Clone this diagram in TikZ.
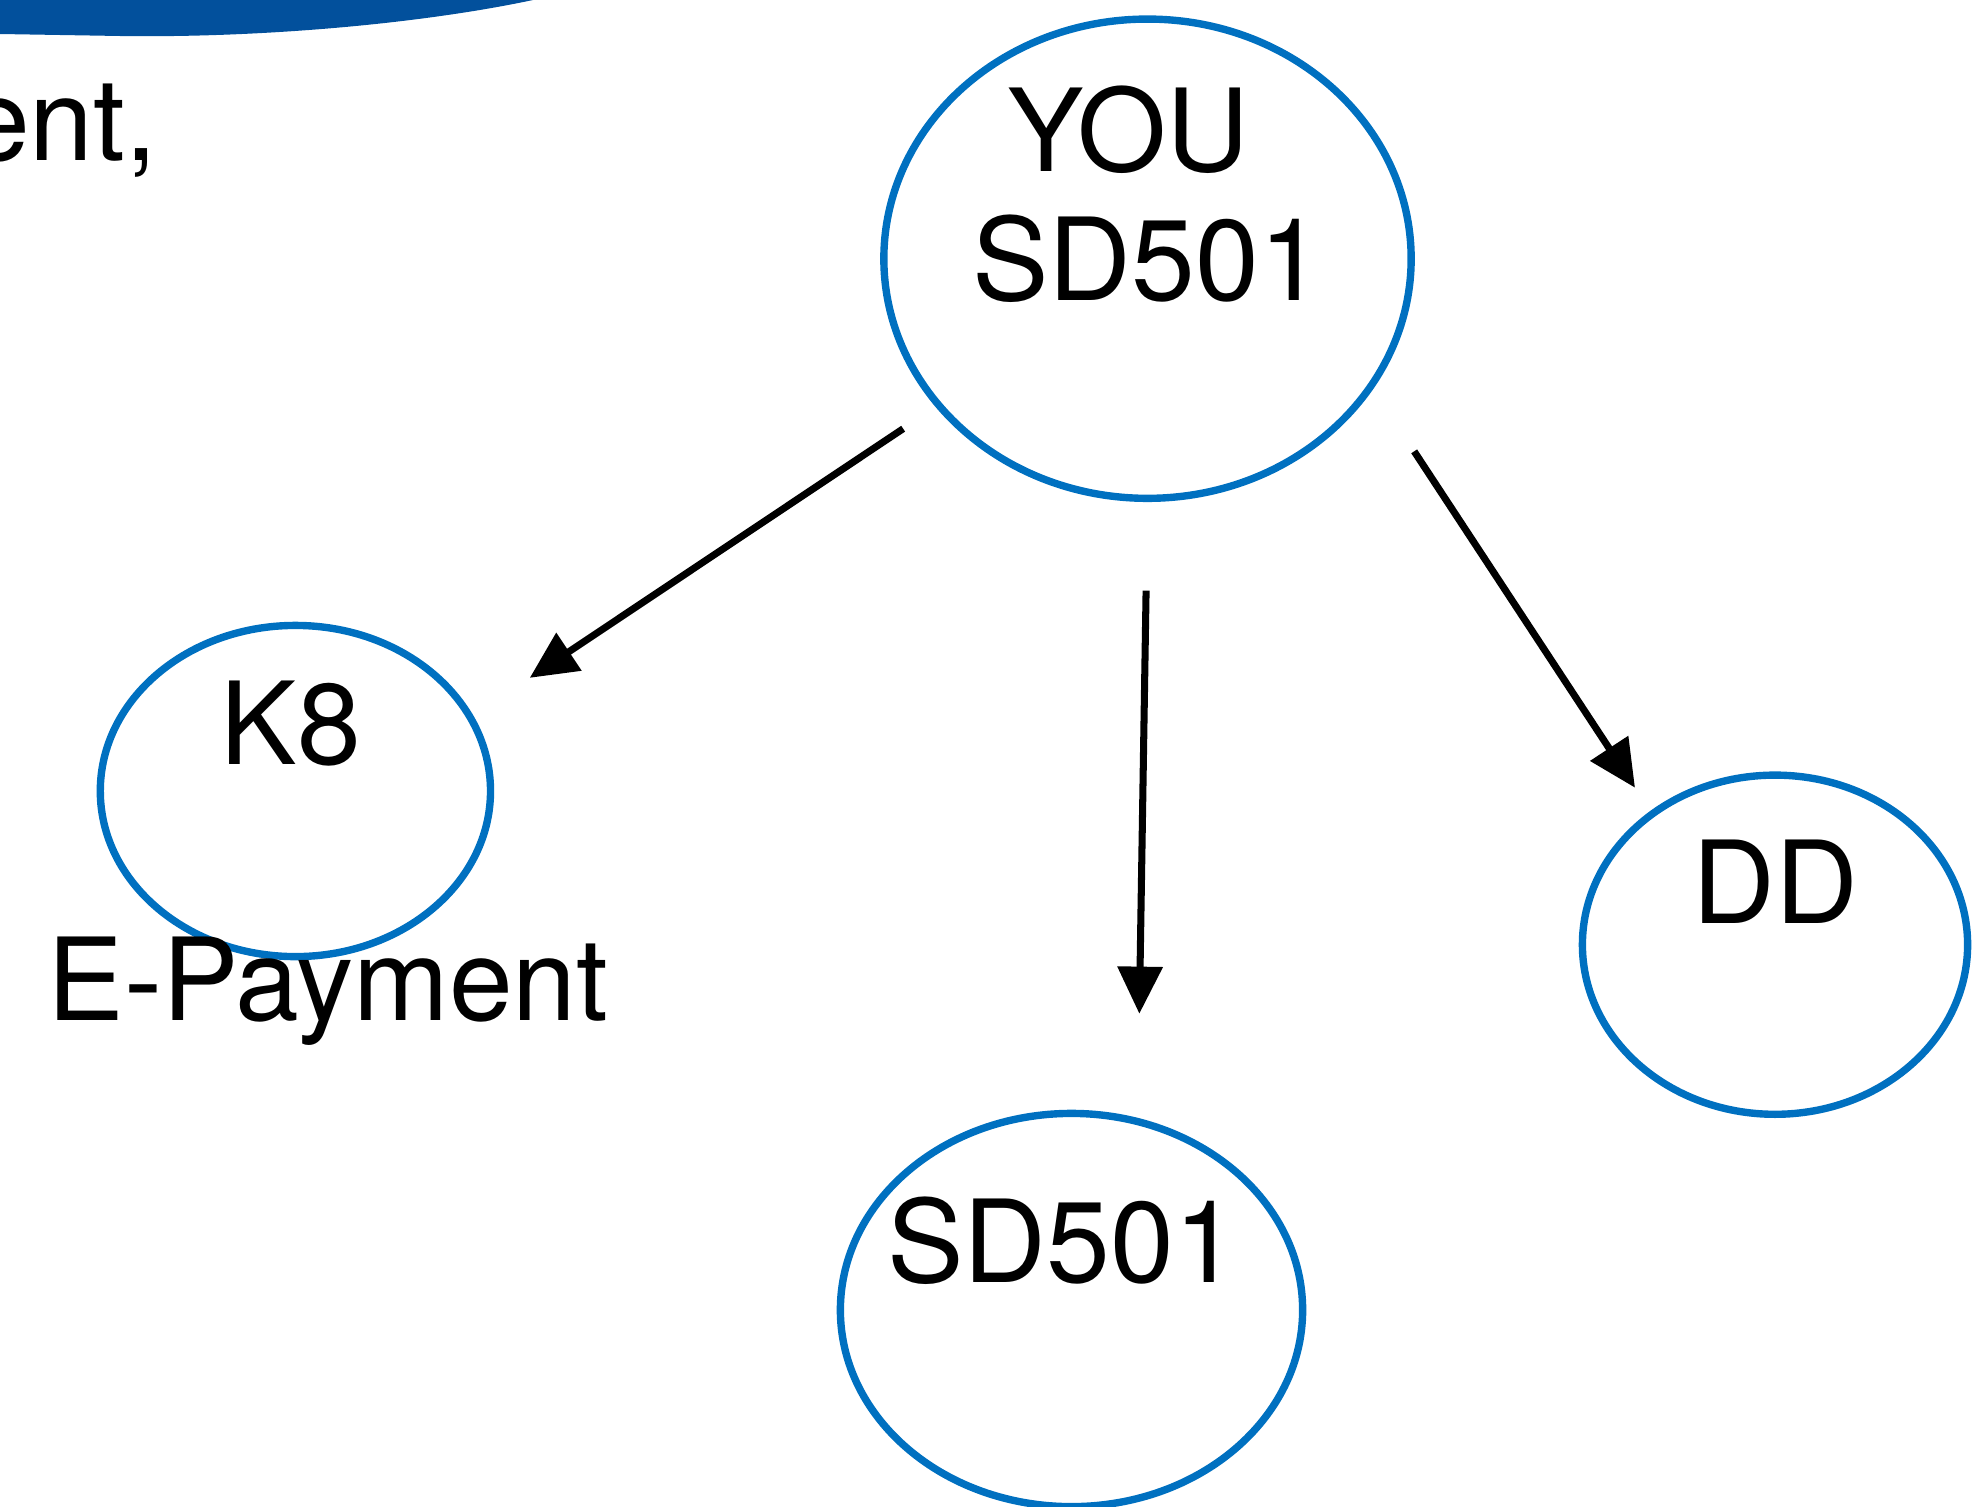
\documentclass[tikz,border=0pt]{standalone}
\usepackage{fontspec}
\setmainfont{TeX Gyre Heros}
\usetikzlibrary{shapes.geometric,arrows.meta}

\definecolor{nodeblue}{RGB}{0,112,192}
\definecolor{bandblue}{RGB}{2,80,156}
\newcommand{\slidefont}{\fontsize{32.6pt}{39pt}\selectfont}

\tikzset{
  bubble/.style={ellipse, draw=nodeblue, line width=2.1pt, inner sep=0pt},
  link/.style={-{Triangle[length=13.4pt,width=12.5pt]}, line width=2pt},
  lbl/.style={anchor=base, inner sep=0pt, font=\slidefont},
}

\begin{document}
\begin{tikzpicture}[x=0.01cm, y=-0.01cm]
  \useasboundingbox (0,0) rectangle (1988,1506);

  % Slide leftovers
  \fill[bandblue] (0,0) -- (533,0) .. controls (420,24) and (260,38) .. (120,36) -- (0,34) -- cycle;
  \node[lbl, anchor=base east] (ent) at (158,160) {ent,};

  % Ellipses
  \node[bubble, minimum width=5.27cm, minimum height=4.79cm] (you) at (1147.5,258.7) {};
  \node[bubble, minimum width=3.90cm, minimum height=3.31cm] (k8) at (295.4,791) {};
  \node[bubble, minimum width=3.85cm, minimum height=3.39cm] (dd) at (1775,944.7) {};
  \node[bubble, minimum width=4.62cm, minimum height=3.93cm] (sd) at (1071.5,1310) {};

  % Labels
  \node[lbl] (youname) at (1128.5,171) {YOU};
  \node[lbl] (youcode) at (1147.5,300.5) {SD501};
  \node[lbl] (k8name) at (291,764.6) {K8};
  \node[lbl] (ddname) at (1775,923) {DD};
  \node[lbl] (sdname) at (1062.6,1282) {SD501};
  \node[lbl] (epay) at (328,1020.7) {E-Payment};

  % Arrows
  \draw[link, shorten <=11.1pt, shorten >=19.3pt] (you.215.2) -- (k8.23.3);
  \draw[link, shorten <=25.2pt, shorten >=29.6pt] (you.270) -- (sd.71.4);
  \draw[link, shorten <=21.2pt, shorten >=7.9pt] (you.-30.2) -- (dd.133.2);
\end{tikzpicture}
\end{document}
